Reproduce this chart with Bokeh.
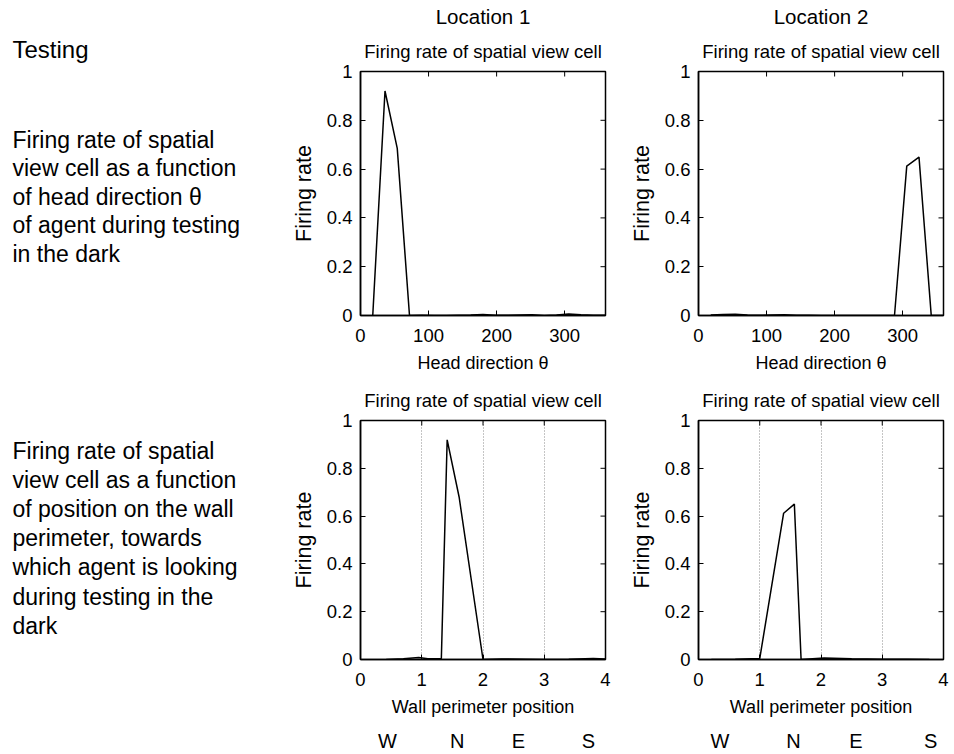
import math
from bokeh.plotting import figure
from bokeh.layouts import row, column
from bokeh.models import (Range1d, FixedTicker, LinearAxis, Title,
                          CustomJSTickFormatter, ColumnDataSource)
from bokeh.core.properties import value
from bokeh.embed import file_html
from bokeh.resources import INLINE

FONT = "Liberation Sans"

# ---------------- data ----------------
theta = [18, 36, 54, 72, 90, 108, 126, 144, 162, 180,
         198, 216, 234, 252, 270, 288, 306, 324, 342, 360]
rate_loc1_theta = [0.0, 0.92, 0.685, 0.0, 0.001, 0.0, 0.0, 0.001, 0.002, 0.004,
                   0.001, 0.001, 0.002, 0.003, 0.0, 0.002, 0.006, 0.003, 0.001, 0.001]
rate_loc2_theta = [0.002, 0.004, 0.005, 0.002, 0.001, 0.002, 0.003, 0.001, 0.001, 0.0,
                   0.0, 0.0, 0.0, 0.0, 0.0, 0.0, 0.612, 0.649, 0.0, 0.0]

wall_loc1 = [0.42, 0.7, 0.95, 1.1, 1.32, 1.415, 1.61, 2.0, 2.3, 2.7, 3.0, 3.4, 3.8, 4.0]
rate_loc1_wall = [0.0, 0.003, 0.008, 0.003, 0.004, 0.919, 0.68, 0.0, 0.002, 0.001,
                  0.0, 0.001, 0.004, 0.002]
wall_loc2 = [0.21, 0.6, 1.0, 1.39, 1.565, 1.675, 2.05, 2.5, 3.0, 3.4, 3.77]
rate_loc2_wall = [0.0, 0.001, 0.004, 0.612, 0.65, 0.0, 0.006, 0.003, 0.001, 0.001, 0.0]

theta_ticks = [0, 100, 200, 300]
wall_ticks = [0, 1, 2, 3, 4]
rate_ticks = [0, 0.2, 0.4, 0.6, 0.8, 1]
wall_sections = [1, 2, 3]
compass_labels = ["W", "N", "E", "S"]
compass_pos_loc1 = [0.44, 1.58, 2.58, 3.72]
compass_pos_loc2 = [0.35, 1.55, 2.57, 3.79]

location_titles = ["Location 1", "Location 2"]
panel_title = "Firing rate of spatial view cell"
y_label = "Firing rate"
theta_label = "Head direction \u03b8"
wall_label = "Wall perimeter position"

side_title = "Testing"
side_text_1 = ["Firing rate of spatial",
               "view cell as a function",
               "of head direction \u03b8",
               "of agent during testing",
               "in the dark"]
side_text_2 = ["Firing rate of spatial",
               "view cell as a function",
               "of position on the wall",
               "perimeter, towards",
               "which agent is looking",
               "during testing in the",
               "dark"]

num_fmt = "return String(Math.round(tick*100)/100);"
TICK_LEN = 5


def style_axes(p, xticks, xr):
    for ax in (p.xaxis[0], p.yaxis[0]):
        ax.axis_line_color = "black"
        ax.axis_line_width = 1.5
        ax.major_tick_in = TICK_LEN
        ax.major_tick_out = 0
        ax.major_tick_line_color = "black"
        ax.major_tick_line_width = 1
        ax.minor_tick_line_color = None
        ax.major_label_text_font = FONT
        ax.major_label_text_font_size = "18.5px"
        ax.major_label_text_color = "black"
        ax.axis_label_text_font = FONT
        ax.axis_label_text_font_style = "normal"
        ax.axis_label_text_color = "black"
        ax.formatter = CustomJSTickFormatter(code=num_fmt)
    p.xaxis[0].ticker = FixedTicker(ticks=xticks)
    p.yaxis[0].ticker = FixedTicker(ticks=rate_ticks)
    p.xaxis[0].major_label_standoff = 13
    p.xaxis[0].axis_label_standoff = 8
    p.xaxis[0].axis_label_text_font_size = "18px"
    p.yaxis[0].major_label_standoff = 8
    p.yaxis[0].axis_label_standoff = 8
    p.yaxis[0].axis_label_text_font_size = "21.5px"

    # mirrored inward ticks on the top and right edges (MATLAB box style)
    top_ticks = [t for t in xticks if xr[0] < t < xr[1]]
    p.ray(x=top_ticks, y=[1] * len(top_ticks), length=TICK_LEN,
          length_units="screen", angle=-math.pi / 2,
          line_color="black", line_width=1)
    right_ticks = [t for t in rate_ticks if 0 < t < 1]
    p.ray(x=[xr[1]] * len(right_ticks), y=right_ticks, length=TICK_LEN,
          length_units="screen", angle=math.pi,
          line_color="black", line_width=1)


def make_panel(xs, ys, xr, xticks, xlabel, width, height, bl, br, bt, bb,
               title_offset, location=None, loc_offset=0, compass_pos=None):
    p = figure(width=width, height=height, title=None,
               x_range=Range1d(*xr), y_range=Range1d(0, 1),
               x_axis_label=xlabel, y_axis_label=y_label,
               output_backend="svg", toolbar_location=None,
               min_border_left=bl, min_border_right=br,
               min_border_top=bt, min_border_bottom=bb)
    p.outline_line_color = "black"
    p.outline_line_width = 1.5
    p.outline_line_alpha = 1
    p.background_fill_color = "white"
    p.border_fill_color = "white"

    p.ygrid.grid_line_color = None
    if compass_pos is not None:
        p.xgrid.ticker = FixedTicker(ticks=wall_sections)
        p.xgrid.grid_line_color = "#8a8a8a"
        p.xgrid.grid_line_width = 1
        p.xgrid.grid_line_dash = "1 2"
        cax = LinearAxis(ticker=FixedTicker(ticks=compass_pos))
        cax.formatter = CustomJSTickFormatter(
            args=dict(pos=compass_pos, labels=compass_labels),
            code="const i = pos.indexOf(tick); return i >= 0 ? labels[i] : '';")
        cax.axis_line_color = None
        cax.major_tick_line_color = None
        cax.minor_tick_line_color = None
        cax.major_label_text_font = FONT
        cax.major_label_text_font_size = "20px"
        cax.major_label_text_color = "black"
        cax.major_label_standoff = 4
        p.add_layout(cax, "below")
    else:
        p.xgrid.grid_line_color = None

    style_axes(p, xticks, xr)
    p.line(xs, ys, line_color="black", line_width=1.5)

    p.add_layout(Title(text=panel_title, text_font=FONT, text_font_size="18.5px",
                       text_font_style="normal", text_color="black",
                       align="center", standoff=19, offset=title_offset), "above")
    if location is not None:
        p.add_layout(Title(text=location, text_font=FONT, text_font_size="20.5px",
                           text_font_style="normal", text_color="black",
                           align="center", standoff=3, offset=loc_offset), "above")
    return p


SIDE_W = 288
TOP_H, BOT_H = 378, 376
tl = make_panel(theta, rate_loc1_theta, (0, 360), theta_ticks, theta_label,
                338, TOP_H, 72, 21, 71, 63, 4, location_titles[0], -7)
tr = make_panel(theta, rate_loc2_theta, (0, 360), theta_ticks, theta_label,
                326, TOP_H, 72, 9, 71, 63, 9, location_titles[1], -7)
bl = make_panel(wall_loc1, rate_loc1_wall, (0, 4), wall_ticks, wall_label,
                338, BOT_H, 72, 21, 40, 93, 4, compass_pos=compass_pos_loc1)
br = make_panel(wall_loc2, rate_loc2_wall, (0, 4), wall_ticks, wall_label,
                326, BOT_H, 72, 9, 40, 93, 9, compass_pos=compass_pos_loc2)

# ---------------- side text ----------------
TH = TOP_H + BOT_H
side = figure(width=SIDE_W, height=TH, x_range=Range1d(0, SIDE_W),
              y_range=Range1d(TH, 0),
              output_backend="svg", toolbar_location=None,
              min_border=0, title=None)
side.axis.visible = False
side.grid.visible = False
side.outline_line_color = None

x0 = 12
side.text(x=[x0], y=[48.5], text=[side_title], text_font=value(FONT),
          text_font_size="24px", text_color="black", text_baseline="alphabetic")
lh1 = 28.5
src1 = ColumnDataSource(dict(x=[x0] * len(side_text_1),
                             y=[139 + i * lh1 for i in range(len(side_text_1))],
                             t=side_text_1))
side.text(x="x", y="y", text="t", source=src1, text_font=value(FONT),
          text_font_size="23px", text_color="black", text_baseline="alphabetic")
lh2 = 29.1
src2 = ColumnDataSource(dict(x=[x0] * len(side_text_2),
                             y=[450.5 + i * lh2 for i in range(len(side_text_2))],
                             t=side_text_2))
side.text(x="x", y="y", text="t", source=src2, text_font=value(FONT),
          text_font_size="23px", text_color="black", text_baseline="alphabetic")

layout = row(side, column(row(tl, tr), row(bl, br)))
open("out.html", "w").write(file_html(layout, INLINE))
